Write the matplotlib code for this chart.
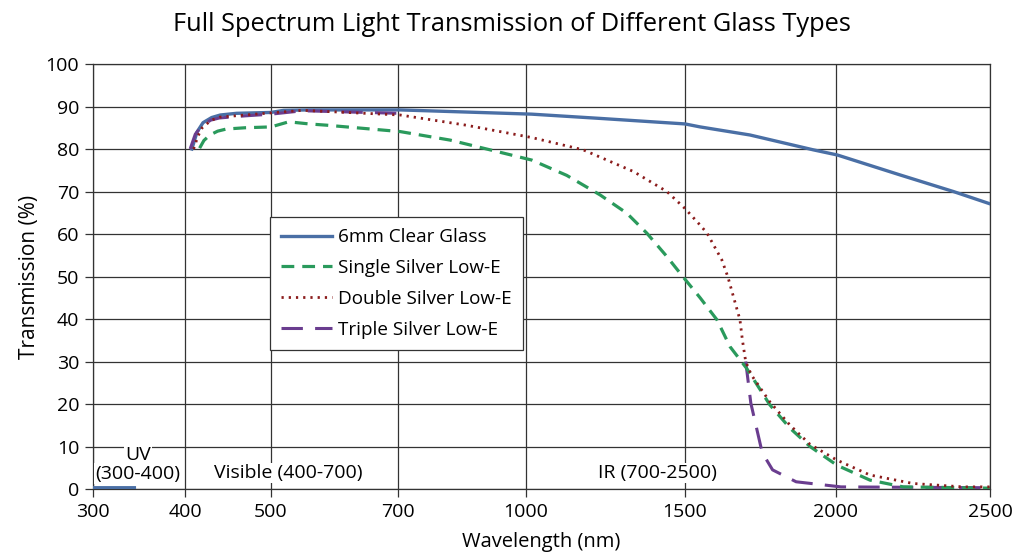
import numpy as np
import matplotlib
matplotlib.use("Agg")
import matplotlib.pyplot as plt

plt.rcParams["font.family"] = ["Open Sans", "DejaVu Sans"]

# wavelength (nm) -> transmission (%)
clear_wl = [300, 345, np.nan, 408, 414, 421, 431, 441, 460, 500, 520, 560, 705,
            1018, 1233, 1500, 1550, 1715, 1925, 2004, 2208, 2381, 2500]
clear_t = [0.3, 0.3, np.nan, 80.0, 84.0, 86.2, 87.4, 88.0, 88.4, 88.6, 89.1, 89.2, 89.2,
           88.2, 87.2, 85.9, 85.2, 83.3, 79.8, 78.6, 73.9, 70.0, 67.1]

single_wl = [417, 422, 429, 438, 448, 470, 500, 528, 560, 588, 705, 822, 916, 1018,
             1128, 1233, 1317, 1380, 1443, 1494, 1550, 1606, 1649, 1704, 1781, 1848,
             1914, 2003, 2110, 2218, 2500]
single_t = [80.2, 82.0, 83.3, 84.2, 84.7, 85.0, 85.2, 86.4, 85.9, 85.6, 84.1, 82.1, 79.8, 77.4,
            73.8, 69.2, 64.9, 60.2, 54.7, 49.9, 45.0, 39.8, 33.5, 28.4, 19.8, 14.3,
            10.0, 5.6, 2.1, 0.5, 0.2]

double_wl = [410, 415, 420, 430, 440, 470, 500, 550, 705, 860, 1018, 1180, 1338, 1443,
             1500, 1550, 1573, 1622, 1642, 1682, 1690, 1701, 1720, 1781, 1848, 1914,
             2003, 2110, 2250, 2412, 2500]
double_t = [80.0, 83.0, 85.0, 86.7, 87.5, 88.0, 88.5, 89.1, 88.0, 85.6, 82.7, 79.8, 74.7, 70.0,
            66.0, 62.1, 60.2, 53.9, 49.9, 39.8, 35.1, 30.0, 26.8, 20.5, 15.0, 10.5,
            6.8, 3.3, 1.3, 0.5, 0.5]

# triple silver lies under the double silver curve between ~700 and ~1700 nm
triple_wl = [406, 412, 420, 430, 440, 470, 500, 550, 700, np.nan,
             1701, 1718, 1751, 1757, 1790, 1868, 2016, 2500]
triple_t = [80.0, 83.5, 85.5, 86.8, 87.3, 87.8, 88.2, 89.0, 88.4, np.nan,
            30.0, 20.2, 10.0, 8.4, 4.5, 1.7, 0.5, 0.3]

x_ticks = [300, 400, 500, 700, 1000, 1500, 2000, 2500]
# relative spacing of the ticks along the axis (uneven scale)
tick_pos = [0, 92, 178, 305, 433, 592, 743, 897]


def fwd(x):
    return np.interp(x, x_ticks, tick_pos, left=np.nan, right=np.nan)


def inv(p):
    return np.interp(p, tick_pos, x_ticks)


fig = plt.figure(figsize=(10.24, 5.59), dpi=100)
ax = fig.add_axes([0.0908, 0.1252, 0.876, 0.7603])
ax.set_xscale("function", functions=(fwd, inv))

ax.plot(clear_wl, clear_t, color="#4a6fa5", lw=2.4, label="6mm Clear Glass", zorder=3)
ax.plot(triple_wl, triple_t, color="#6a3d8f", lw=2.2, ls=(0, (7, 4)),
        label="Triple Silver Low-E", zorder=4)
ax.plot(single_wl, single_t, color="#2a9a5c", lw=2.3, ls=(0, (4, 2.5)),
        label="Single Silver Low-E", zorder=5)
ax.plot(double_wl, double_t, color="#8b1c1c", lw=2.0, ls=(0, (0.8, 1.8)),
        label="Double Silver Low-E", zorder=6)

ax.set_xlim(300, 2500)
ax.set_ylim(0, 100)
ax.set_xticks(x_ticks)
ax.set_xticklabels([str(t) for t in x_ticks])
ax.set_yticks(range(0, 101, 10))
ax.minorticks_off()
ax.grid(True, color="#333333", lw=0.9)
ax.set_axisbelow(True)
for s in ax.spines.values():
    s.set_color("#333333")
    s.set_linewidth(0.9)
ax.tick_params(axis="both", labelsize=14, length=6, width=0.9, color="#333333", pad=4)

ax.set_xlabel("Wavelength (nm)", fontsize=14.5, labelpad=8)
ax.set_ylabel("Transmission (%)", fontsize=15, labelpad=4)
fig.suptitle("Full Spectrum Light Transmission of Different Glass Types",
             fontsize=18.3, x=0.5, y=0.978)

box = dict(facecolor="white", edgecolor="none", pad=1)
ax.text(349, 8.0, "UV", ha="center", va="center", fontsize=14, bbox=box, zorder=7)
ax.text(349, 3.6, "(300-400)", ha="center", va="center", fontsize=14, bbox=box, zorder=7)
ax.text(527, 3.8, "Visible (400-700)", ha="center", va="center", fontsize=14, bbox=box, zorder=7)
ax.text(1412, 3.8, "IR (700-2500)", ha="center", va="center", fontsize=14, bbox=box, zorder=7)

handles, labels = ax.get_legend_handles_labels()
order = [0, 2, 3, 1]
leg = ax.legend([handles[i] for i in order], [labels[i] for i in order],
                loc="lower left", bbox_to_anchor=(0.197, 0.327), fontsize=13.6,
                frameon=True, fancybox=False, framealpha=1, edgecolor="#333333",
                handlelength=2.7, handletextpad=0.3, borderpad=0.6, labelspacing=0.68,
                borderaxespad=0)
leg.get_frame().set_linewidth(0.9)
leg.set_zorder(8)

fig.savefig("out.png", dpi=100)
